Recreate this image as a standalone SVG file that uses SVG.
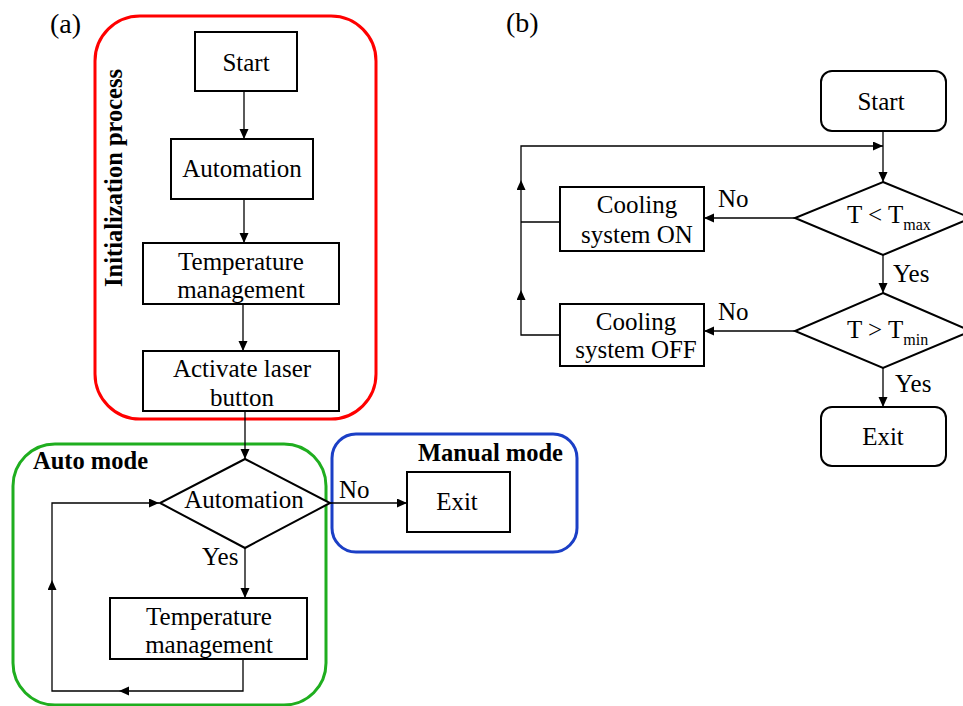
<svg xmlns="http://www.w3.org/2000/svg" width="963" height="706" viewBox="0 0 963 706">
<defs>
<marker id="ah" markerUnits="userSpaceOnUse" markerWidth="11" markerHeight="10" refX="10" refY="4.5" orient="auto">
<path d="M0,0 L10,4.5 L0,9 z" fill="#000"/>
</marker>
<style>
text{font-family:"Liberation Serif","Times New Roman",serif;font-size:25px;fill:#000}
.b{font-weight:bold;font-size:24.5px}
.c{text-anchor:middle}
.lbl{font-size:28px}
.sub{font-size:16px}
.box{fill:#fff;stroke:#000;stroke-width:2}
.grp{fill:none;stroke-width:3}
.ln{fill:none;stroke:#000;stroke-width:1.3}
.arr{fill:none;stroke:#000;stroke-width:1.3;marker-end:url(#ah)}
</style>
</defs>
<rect width="963" height="706" fill="#fff"/>
<text class="lbl" x="50" y="33">(a)</text>
<text class="lbl" x="506" y="32">(b)</text>

<g id="group-init">
<rect class="grp" x="95" y="16" width="281" height="403" rx="45" stroke="#ff0000"/>
<text class="b c" transform="translate(122,178) rotate(-90)">Initialization process</text>
</g>
<g id="group-auto">
<rect class="grp" x="13" y="444" width="313" height="261" rx="42" stroke="#1fae1f"/>
<text class="b" x="33" y="469">Auto mode</text>
</g>
<g id="group-manual">
<rect class="grp" x="332" y="434" width="245" height="118" rx="24" stroke="#1b3fc6"/>
<text class="b" x="418" y="461">Manual mode</text>
</g>

<g id="connectors">
<path class="arr" d="M244,91 V139"/>
<path class="arr" d="M244,199 V243"/>
<path class="arr" d="M243,304 V351"/>
<path class="arr" d="M245,411 V459"/>
<path class="arr" d="M330,503 H407"/>
<path class="arr" d="M245,548 V598"/>
<path class="arr" d="M243,659 V691 H119"/>
<path class="arr" d="M119,691 H52 V580"/>
<path class="arr" d="M52,580 V503 H159"/>

<path class="arr" d="M883,131 V182"/>
<path class="ln" d="M560,222 H521"/>
<path class="arr" d="M560,335 H521 V290"/>
<path class="arr" d="M521,290 V180"/>
<path class="arr" d="M521,180 V146 H883"/>
<path class="arr" d="M795,218 H704"/>
<path class="arr" d="M883,255 V293"/>
<path class="arr" d="M795,331 H704"/>
<path class="arr" d="M883,368 V407"/>
</g>

<g id="a-start"><rect class="box" x="195" y="32" width="102" height="59"/><text class="c" x="246" y="71">Start</text></g>
<g id="a-automation"><rect class="box" x="171" y="139" width="142" height="60"/><text class="c" x="242" y="177">Automation</text></g>
<g id="a-temp1"><rect class="box" x="143" y="243" width="196" height="61"/><text class="c" x="241" y="270">Temperature</text><text class="c" x="241" y="298">management</text></g>
<g id="a-laser"><rect class="box" x="143" y="351" width="196" height="60"/><text class="c" x="242" y="377">Activate laser</text><text class="c" x="242" y="406">button</text></g>
<g id="a-decision"><path class="box" d="M245,459 L330,503 L245,548 L160,503 z"/><text class="c" x="244" y="508">Automation</text></g>
<g id="a-exit"><rect class="box" x="407" y="472" width="103" height="60"/><text class="c" x="457" y="510">Exit</text></g>
<g id="a-temp2"><rect class="box" x="110" y="598" width="197" height="61"/><text class="c" x="209" y="625">Temperature</text><text class="c" x="209" y="653">management</text></g>
<text x="339" y="498">No</text>
<text x="202" y="565">Yes</text>

<g id="b-start"><rect class="box" x="821" y="71" width="125" height="60" rx="11"/><text class="c" x="881" y="110">Start</text></g>
<g id="b-d1"><path class="box" d="M883,182 L971,218 L883,255 L795,218 z"/><text x="847" y="223">T &lt; T<tspan class="sub" dy="7">max</tspan></text></g>
<g id="b-cool-on"><rect class="box" x="560" y="187" width="144" height="64"/><text class="c" x="637" y="213">Cooling</text><text class="c" x="637" y="243">system ON</text></g>
<g id="b-d2"><path class="box" d="M883,293 L971,331 L883,368 L795,331 z"/><text x="847" y="338">T &gt; T<tspan class="sub" dy="7">min</tspan></text></g>
<g id="b-cool-off"><rect class="box" x="560" y="304" width="144" height="62"/><text class="c" x="636" y="330">Cooling</text><text class="c" x="636" y="358">system OFF</text></g>
<g id="b-exit"><rect class="box" x="821" y="407" width="125" height="59" rx="11"/><text class="c" x="883" y="445">Exit</text></g>
<text x="718" y="207">No</text>
<text x="718" y="320">No</text>
<text x="893" y="282">Yes</text>
<text x="895" y="392">Yes</text>
</svg>
